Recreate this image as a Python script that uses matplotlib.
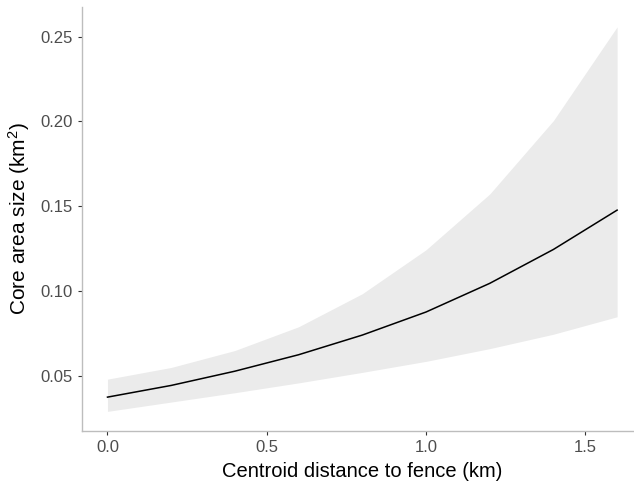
import matplotlib
matplotlib.use('Agg')
import matplotlib.pyplot as plt

# Fitted core area size vs. centroid distance to fence, with 95% band
distance_km = [0.0, 0.2, 0.4, 0.6, 0.8, 1.0, 1.2, 1.4, 1.6]
core_area = [0.0374, 0.0443, 0.0527, 0.0624, 0.0740, 0.0876, 0.1045, 0.1245, 0.1477]
ci_lower = [0.0290, 0.0345, 0.0400, 0.0458, 0.0520, 0.0585, 0.0660, 0.0745, 0.0848]
ci_upper = [0.0480, 0.0549, 0.0649, 0.0789, 0.0984, 0.1243, 0.1572, 0.2005, 0.2558]

x_ticks = [0.0, 0.5, 1.0, 1.5]
y_ticks = [0.05, 0.10, 0.15, 0.20, 0.25]

plt.rcParams['font.family'] = ['Liberation Sans', 'DejaVu Sans']
plt.rcParams['mathtext.fontset'] = 'custom'
plt.rcParams['mathtext.rm'] = 'Liberation Sans'
plt.rcParams['mathtext.it'] = 'Liberation Sans:italic'

fig = plt.figure(figsize=(6.34, 4.82), dpi=100)
ax = fig.add_axes([82 / 634, 1 - 430.7 / 482, (642.6 - 82) / 634, (430.7 - 7) / 482])

ax.fill_between(distance_km, ci_lower, ci_upper, color='#ebebeb', linewidth=0)
ax.plot(distance_km, core_area, color='black', linewidth=1.1)

ax.set_xlim(-0.08, 1.68)
ax.set_ylim(0.0176, 0.2675)
ax.set_xticks(x_ticks)
ax.set_xticklabels([f'{t:.1f}' for t in x_ticks])
ax.set_yticks(y_ticks)
ax.set_yticklabels([f'{t:.2f}' for t in y_ticks])

for side in ['top', 'right']:
    ax.spines[side].set_visible(False)
for side in ['left', 'bottom']:
    ax.spines[side].set_color('#bdbdbd')
    ax.spines[side].set_linewidth(1.0)

ax.tick_params(axis='both', length=3, width=0.8, color='#333333',
               labelcolor='#4d4d4d', labelsize=12, pad=4)

ax.set_xlabel('Centroid distance to fence (km)', fontsize=14.5, color='black', labelpad=5)
ax.set_ylabel(r'Core area size (km$^{2}$)', fontsize=15, color='black', labelpad=6)

fig.savefig('out.png', dpi=100)
